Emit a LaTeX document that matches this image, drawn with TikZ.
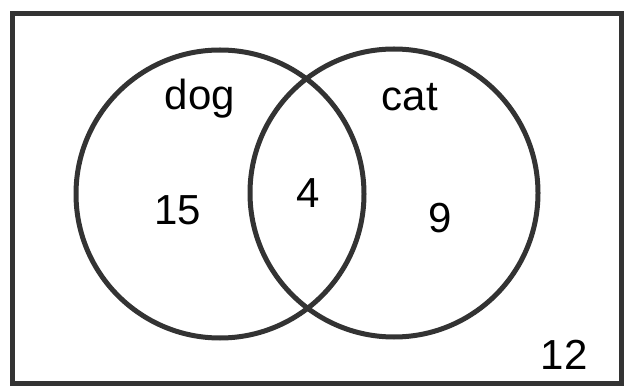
\documentclass[tikz,border=0pt]{standalone}
\usepackage{fontspec}
\setmainfont{Liberation Sans}
\usetikzlibrary{positioning}

\begin{document}
\begin{tikzpicture}[x=1pt,y=-1pt]
\tikzstyle{set}=[circle,draw=black!80,line width=5pt,minimum size=288pt,inner sep=0pt]
\tikzstyle{num}=[font=\fontsize{42}{48}\selectfont,inner sep=0pt]
\useasboundingbox (0,0) rectangle (626,387);
\draw[black!80,line width=5pt] (12,14) rectangle (621,383);
\node[set] (dogset) at (220,194) {};
\node[set] (catset) at (394,193) {};
\node[num] (dog) at (200,99) {dog};
\node[num] (cat) at (410,97) {cat};
\node[num] (onlydog) at (178,210) {15};
\node[num] (both) at (308,193) {4};
\node[num] (onlycat) at (440,218) {9};
\node[num] (neither) at (564,355) {12};
\end{tikzpicture}
\end{document}
